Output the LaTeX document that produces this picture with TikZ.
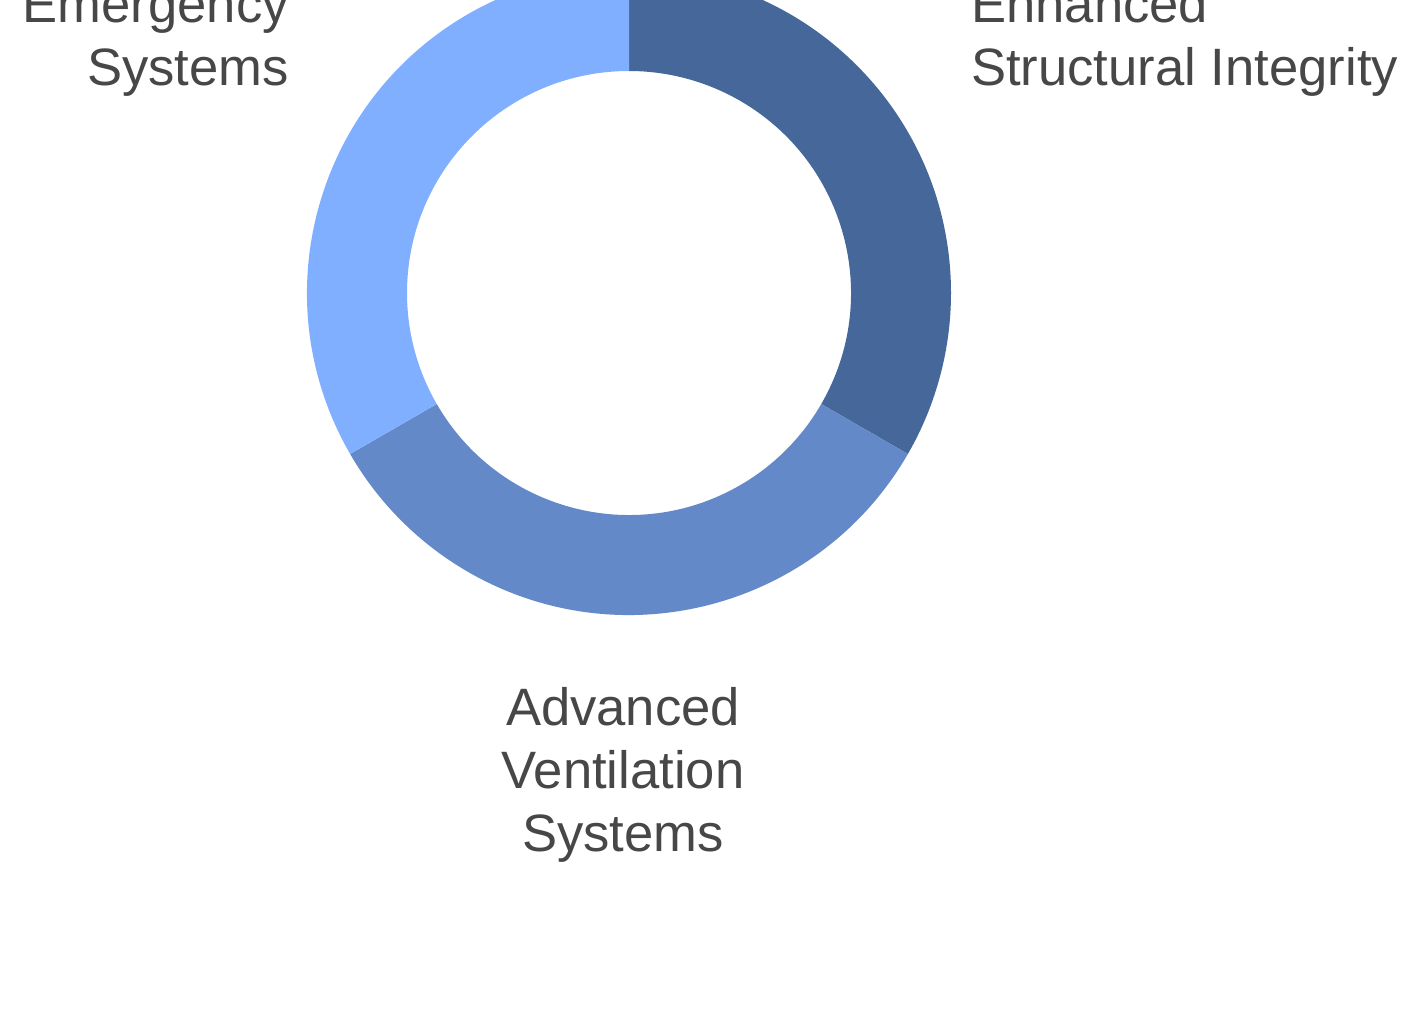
\documentclass[tikz,border=0pt]{standalone}
\usepackage{fontspec}
\setmainfont{Liberation Sans}
\definecolor{segdark}{HTML}{46679A}
\definecolor{segmid}{HTML}{6389C9}
\definecolor{seglight}{HTML}{80AFFF}
\definecolor{labelgray}{HTML}{474747}
\begin{document}
\begin{tikzpicture}[x=1pt,y=1pt,
  lbl/.style={text=labelgray, font=\fontsize{52.6}{63}\selectfont, inner sep=0pt}]
\useasboundingbox (0,0) rectangle (1403,-1017);
\clip (0,0) rectangle (1403,-1017);
\coordinate (c) at (629,-293);
\def\ro{322}
\def\ri{222}
\fill[segdark] ([shift={(90:\ro)}]c) arc[start angle=90,end angle=-30,radius=\ro]
  -- ([shift={(-30:\ri)}]c) arc[start angle=-30,end angle=90,radius=\ri] -- cycle;
\fill[segmid] ([shift={(-30:\ro)}]c) arc[start angle=-30,end angle=-150,radius=\ro]
  -- ([shift={(-150:\ri)}]c) arc[start angle=-150,end angle=-30,radius=\ri] -- cycle;
\fill[seglight] ([shift={(-150:\ro)}]c) arc[start angle=-150,end angle=-270,radius=\ro]
  -- ([shift={(90:\ri)}]c) arc[start angle=90,end angle=210,radius=\ri] -- cycle;
\node[lbl, align=left, anchor=base west] (enh) at (971,-85) {Enhanced\\Structural Integrity};
\node[lbl, align=right, anchor=base east] (emg) at (289,-85) {Emergency\\Systems};
\node[lbl, align=center, anchor=base] (adv) at (623,-851) {Advanced\\Ventilation\\Systems};
\end{tikzpicture}
\end{document}
